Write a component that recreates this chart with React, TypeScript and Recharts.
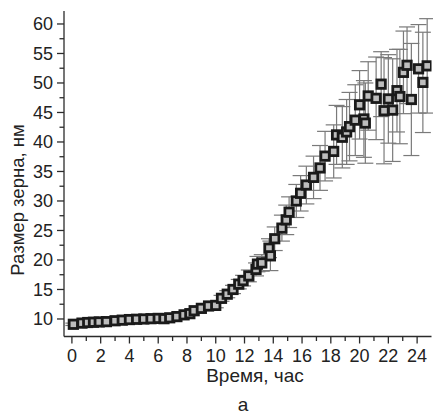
import React from "react";
import { ScatterChart, Scatter, XAxis, YAxis, ErrorBar, Label } from "recharts";

// время, час
const times = [
  0.1, 0.7, 1.1, 1.5, 1.9, 2.4, 3.0, 3.5, 4.0, 4.5, 5.0, 5.5, 6.0, 6.4, 6.8, 7.3, 7.8, 8.2, 8.5, 9.0,
  9.5, 10.0, 10.4, 10.8, 11.2, 11.6, 11.9, 12.3, 12.8, 12.9, 13.2, 13.7, 13.8, 14.1, 14.6, 14.9, 15.1,
  15.6, 15.9, 16.3, 16.8, 17.25, 17.6, 18.2, 18.4, 18.8, 19.1, 19.3, 19.7, 20.0, 20.3, 20.4, 20.6,
  21.15, 21.5, 21.7, 22.0, 22.3, 22.6, 22.8, 23.05, 23.3, 23.6, 24.1, 24.4, 24.7,
];

// размер зерна, нм
const sizes = [
  9.1, 9.3, 9.4, 9.45, 9.5, 9.55, 9.7, 9.8, 9.9, 9.95, 10.0, 10.05, 10.1, 10.05, 10.2, 10.4, 10.7, 10.9,
  11.4, 11.8, 12.2, 12.3, 13.5, 14.2, 15.0, 15.9, 16.5, 17.3, 18.4, 19.3, 19.5, 22.0, 20.7, 23.6, 25.4,
  26.8, 28.1, 30.0, 31.3, 32.7, 34.0, 35.6, 37.6, 38.4, 41.2, 40.8, 41.7, 42.6, 43.7, 46.3, 43.9, 43.2,
  47.8, 47.4, 49.8, 45.3, 47.3, 45.4, 48.7, 47.7, 51.8, 53.0, 47.2, 52.4, 50.1, 52.9,
];

// погрешность, нм
const errors = [
  0.2, 0.2, 0.2, 0.2, 0.2, 0.2, 0.2, 0.2, 0.2, 0.2, 0.2, 0.2, 0.2, 0.2, 0.2, 0.3, 0.3, 0.3, 0.3, 0.3,
  0.4, 0.4, 0.5, 0.6, 0.7, 0.8, 0.9, 1.0, 1.1, 1.3, 1.4, 1.6, 2.5, 2.0, 2.2, 2.5, 2.6, 2.8, 3.0, 3.2,
  3.6, 3.8, 4.2, 4.5, 5.0, 5.2, 5.5, 5.8, 6.0, 5.8, 6.5, 6.8, 5.8, 7.0, 5.5, 9.0, 7.5, 8.7, 7.0, 8.0,
  7.0, 6.5, 9.5, 7.5, 8.5, 8.0,
];

const xTicks = [0, 1, 2, 3, 4, 5, 6, 7, 8, 9, 10, 11, 12, 13, 14, 15, 16, 17, 18, 19, 20, 21, 22, 23, 24];
const yTicks = [10, 12.5, 15, 17.5, 20, 22.5, 25, 27.5, 30, 32.5, 35, 37.5, 40, 42.5, 45, 47.5, 50, 52.5, 55, 57.5, 60];

const data = times.map((t, i) => ({ t, v: sizes[i], e: errors[i] }));

const FONT = '"Liberation Sans", Arial, Helvetica, sans-serif';
const INK = "#222";
const AXIS = "#2b2b2b";

const BottomTick = (props: any) => {
  const { x, y, payload } = props;
  const major = payload.value % 2 === 0;
  return (
    <g>
      <line x1={x} x2={x} y1={y} y2={y + (major ? 7 : 4.5)} stroke={AXIS} strokeWidth={1.3} />
      {major && (
        <text x={x} y={y + 25} textAnchor="middle" fontSize={18} fill={INK} fontFamily={FONT}>
          {payload.value}
        </text>
      )}
    </g>
  );
};

const TopTick = (props: any) => {
  const { x, y } = props;
  return <line x1={x} x2={x} y1={y} y2={y + 4.5} stroke={AXIS} strokeWidth={1.3} />;
};

const LeftTick = (props: any) => {
  const { x, y, payload } = props;
  const major = payload.value % 5 === 0;
  return (
    <g>
      <line x1={x} x2={x - (major ? 7 : 4.5)} y1={y} y2={y} stroke={AXIS} strokeWidth={1.3} />
      {major && (
        <text x={x - 11} y={y + 6.5} textAnchor="end" fontSize={18} fill={INK} fontFamily={FONT}>
          {payload.value}
        </text>
      )}
    </g>
  );
};

const Marker = (props: any) => {
  const { cx, cy } = props;
  if (cx == null || cy == null) return null;
  return (
    <rect x={cx - 4.2} y={cy - 4.2} width={8.4} height={8.4} fill="#bdbdbd" stroke="#1a1a1a" strokeWidth={2.8} />
  );
};

const App = () => {
  return (
    <div style={{ position: "absolute", left: 0, top: 0, background: "#fff" }}>
      <ScatterChart width={433} height={414} margin={{ top: 11, right: 1.5, bottom: 0, left: 0 }}>
        <XAxis
          type="number"
          dataKey="t"
          domain={[-0.55, 25]}
          allowDataOverflow
          ticks={xTicks}
          interval={0}
          tickSize={0}
          tickMargin={0}
          tick={<BottomTick />}
          height={77.5}
          axisLine={{ stroke: AXIS, strokeWidth: 1.3 }}
        >
          <Label
            content={() => (
              <text x={255} y={382} textAnchor="middle" fontSize={19} fill={INK} fontFamily={FONT}>
                Время, час
              </text>
            )}
          />
          <Label
            content={() => (
              <text x={243} y={411} textAnchor="middle" fontSize={19} fill={INK} fontFamily={FONT}>
                а
              </text>
            )}
          />
        </XAxis>
        <XAxis
          xAxisId="top"
          orientation="top"
          type="number"
          dataKey="t"
          domain={[-0.55, 25]}
          allowDataOverflow
          ticks={xTicks}
          interval={0}
          tickSize={0}
          tickMargin={0}
          tick={<TopTick />}
          height={0}
          axisLine={{ stroke: AXIS, strokeWidth: 1.3 }}
        />
        <YAxis
          type="number"
          dataKey="v"
          domain={[7.03, 62.2]}
          allowDataOverflow
          ticks={yTicks}
          interval={0}
          tickSize={0}
          tickMargin={0}
          tick={<LeftTick />}
          width={64}
          axisLine={{ stroke: AXIS, strokeWidth: 1.3 }}
        >
          <Label
            content={() => (
              <text
                x={17}
                y={200}
                transform="rotate(-90 17 200)"
                textAnchor="middle"
                dominantBaseline="central"
                fontSize={18.5}
                fill={INK}
                fontFamily={FONT}
              >
                Размер зерна, нм
              </text>
            )}
          />
        </YAxis>
        <Scatter data={data} shape={<Marker />} isAnimationActive={false}>
          <ErrorBar dataKey="e" direction="y" width={8} stroke="#7a7a7a" strokeWidth={1.2} />
        </Scatter>
      </ScatterChart>
    </div>
  );
};

export default App;
